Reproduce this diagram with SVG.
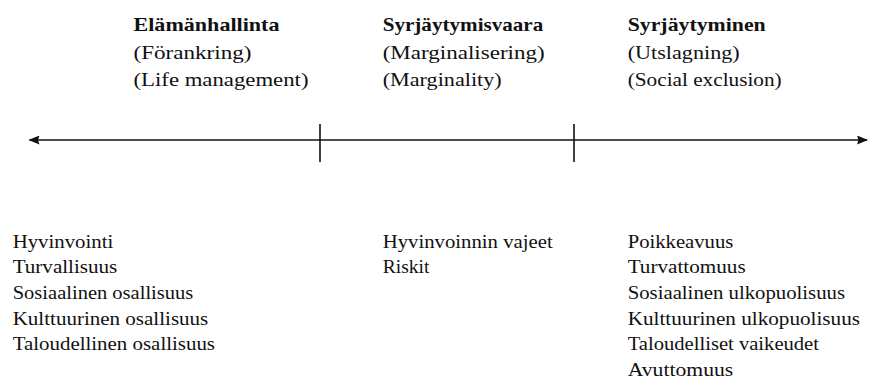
<svg xmlns="http://www.w3.org/2000/svg" width="869" height="380" viewBox="0 0 869 380">
<defs>
<style>
text{font-family:"Liberation Serif","DejaVu Serif",serif;font-size:19px;fill:#111}
.h{font-size:19.5px}
.t{font-weight:bold}
.ax{stroke:#111;stroke-width:1.6;fill:none}
</style>
<marker id="ah" viewBox="0 0 11 9" refX="10" refY="4.5" markerWidth="11" markerHeight="9" markerUnits="userSpaceOnUse" orient="auto-start-reverse">
<path d="M0,0 L11,4.5 L0,9 L1.5,4.5 Z" fill="#111"/>
</marker>
</defs>
<rect width="869" height="380" fill="#fff"/>
<g id="connectors">
<line class="ax" x1="29.5" y1="140" x2="867" y2="140" marker-start="url(#ah)" marker-end="url(#ah)"/>
<line class="ax" x1="320" y1="124" x2="320" y2="162"/>
<line class="ax" x1="574" y1="124" x2="574" y2="162"/>
</g>
<g id="head1">
<text class="h t" x="133.5" y="31" textLength="146" lengthAdjust="spacingAndGlyphs">Elämänhallinta</text>
<text class="h" x="133.5" y="58.5" textLength="118" lengthAdjust="spacingAndGlyphs">(Förankring)</text>
<text class="h" x="133.5" y="86" textLength="175" lengthAdjust="spacingAndGlyphs">(Life management)</text>
</g>
<g id="head2">
<text class="h t" x="382.7" y="31" textLength="160.6" lengthAdjust="spacingAndGlyphs">Syrjäytymisvaara</text>
<text class="h" x="382.7" y="58.5" textLength="162" lengthAdjust="spacingAndGlyphs">(Marginalisering)</text>
<text class="h" x="382.7" y="86" textLength="119" lengthAdjust="spacingAndGlyphs">(Marginality)</text>
</g>
<g id="head3">
<text class="h t" x="627.7" y="31" textLength="138" lengthAdjust="spacingAndGlyphs">Syrjäytyminen</text>
<text class="h" x="627.7" y="58.5" textLength="112" lengthAdjust="spacingAndGlyphs">(Utslagning)</text>
<text class="h" x="627.7" y="86" textLength="154" lengthAdjust="spacingAndGlyphs">(Social exclusion)</text>
</g>
<g id="list1">
<text x="12.7" y="247.5" textLength="100.6" lengthAdjust="spacingAndGlyphs">Hyvinvointi</text>
<text x="12.7" y="273.2" textLength="104.6" lengthAdjust="spacingAndGlyphs">Turvallisuus</text>
<text x="12.7" y="298.9" textLength="180.6" lengthAdjust="spacingAndGlyphs">Sosiaalinen osallisuus</text>
<text x="12.7" y="324.5" textLength="195.6" lengthAdjust="spacingAndGlyphs">Kulttuurinen osallisuus</text>
<text x="12.7" y="350.1" textLength="202.3" lengthAdjust="spacingAndGlyphs">Taloudellinen osallisuus</text>
</g>
<g id="list2">
<text x="382.7" y="247.5" textLength="170" lengthAdjust="spacingAndGlyphs">Hyvinvoinnin vajeet</text>
<text x="382.7" y="273.2" textLength="46.7" lengthAdjust="spacingAndGlyphs">Riskit</text>
</g>
<g id="list3">
<text x="627.7" y="247.5" textLength="105.6" lengthAdjust="spacingAndGlyphs">Poikkeavuus</text>
<text x="627.7" y="273.2" textLength="118" lengthAdjust="spacingAndGlyphs">Turvattomuus</text>
<text x="627.7" y="298.9" textLength="217.3" lengthAdjust="spacingAndGlyphs">Sosiaalinen ulkopuolisuus</text>
<text x="627.7" y="324.5" textLength="232.3" lengthAdjust="spacingAndGlyphs">Kulttuurinen ulkopuolisuus</text>
<text x="627.7" y="350.1" textLength="191.3" lengthAdjust="spacingAndGlyphs">Taloudelliset vaikeudet</text>
<text x="627.7" y="375.7" textLength="105.6" lengthAdjust="spacingAndGlyphs">Avuttomuus</text>
</g>
</svg>
